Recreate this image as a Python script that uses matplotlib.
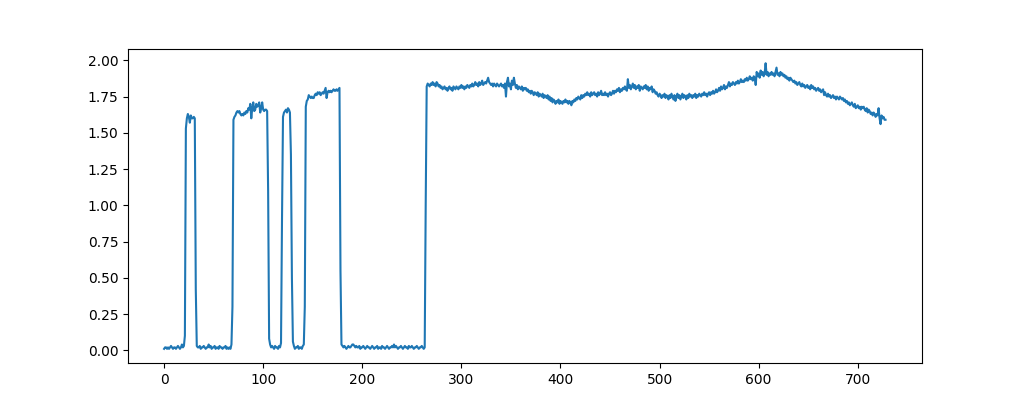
import matplotlib
matplotlib.use("Agg")
import matplotlib.pyplot as plt
import numpy as np

# signal, one value per sample index
low_1 = [0.01, 0.02, 0.02, 0.01, 0.02, 0.01, 0.02, 0.03, 0.02, 0.01,
         0.02, 0.02, 0.01, 0.02, 0.03, 0.02, 0.01, 0.02, 0.04, 0.02,
         0.03]
pulse_1 = [0.10, 1.53, 1.60, 1.63, 1.61, 1.57, 1.62, 1.60, 1.60, 1.61,
           1.60, 0.42]
low_2 = [0.03, 0.02, 0.02, 0.03, 0.01, 0.02, 0.02, 0.03, 0.02, 0.01,
         0.02, 0.02, 0.04, 0.02, 0.03, 0.01, 0.02, 0.02, 0.03, 0.01,
         0.02, 0.02, 0.01, 0.03, 0.02, 0.02, 0.01, 0.02, 0.02, 0.03,
         0.01, 0.02, 0.01, 0.02, 0.01, 0.04]
pulse_2 = [0.30, 1.59,
           1.61, 1.62, 1.64, 1.65, 1.64, 1.65, 1.63, 1.62, 1.63, 1.62,
           1.64, 1.63, 1.65, 1.64, 1.67, 1.66, 1.70, 1.60, 1.67, 1.71,
           1.65, 1.66, 1.70, 1.68, 1.69, 1.71, 1.64, 1.67, 1.71, 1.66,
           1.65, 1.66, 1.66, 1.65,
           1.10, 0.08]
low_3 = [0.04, 0.02, 0.03, 0.02, 0.01, 0.03, 0.02, 0.02, 0.01, 0.03,
         0.02, 0.05]
pulse_3 = [0.90, 1.61, 1.64, 1.65, 1.66, 1.64, 1.67, 1.66, 1.64,
           1.35, 0.50, 0.06]
low_4 = [0.03, 0.01, 0.02, 0.02, 0.03, 0.01, 0.02, 0.02, 0.01, 0.03,
         0.04]
pulse_4 = [0.30, 1.68,
           1.72, 1.73, 1.76, 1.75, 1.74, 1.75, 1.74, 1.74, 1.76, 1.77,
           1.76, 1.78, 1.77, 1.78, 1.76, 1.77, 1.78, 1.77, 1.79, 1.81,
           1.74, 1.78, 1.79, 1.78, 1.79, 1.78, 1.79, 1.80, 1.79, 1.79,
           1.80, 1.79, 1.80, 1.81,
           0.55]
low_5 = [0.04, 0.03, 0.02, 0.03, 0.02, 0.01, 0.02, 0.03, 0.02, 0.02,
         0.03, 0.04, 0.04, 0.03, 0.02, 0.03, 0.02, 0.02, 0.03, 0.01,
         0.02, 0.02, 0.03, 0.02, 0.01, 0.02, 0.03, 0.02, 0.02, 0.01,
         0.02, 0.03, 0.02, 0.01, 0.02, 0.02, 0.03, 0.01, 0.02, 0.02,
         0.01, 0.03, 0.02, 0.02, 0.01, 0.02, 0.03, 0.02, 0.01, 0.02,
         0.02, 0.03, 0.02, 0.04, 0.02, 0.03, 0.02, 0.01, 0.02, 0.02,
         0.03, 0.02, 0.01, 0.02, 0.03, 0.02, 0.02, 0.01, 0.03, 0.02,
         0.02, 0.03, 0.02, 0.01, 0.02, 0.02, 0.03, 0.02, 0.01, 0.02,
         0.02, 0.03, 0.02, 0.01, 0.02]
plateau_1 = [1.00,
             1.82, 1.84, 1.83, 1.82, 1.84, 1.83, 1.85, 1.83, 1.84, 1.82,
             1.85, 1.84, 1.82, 1.83, 1.81, 1.82, 1.80, 1.81, 1.82, 1.80,
             1.81, 1.79, 1.81, 1.82, 1.80, 1.81, 1.79, 1.82, 1.81, 1.80,
             1.82, 1.81, 1.80, 1.82, 1.81, 1.83, 1.81, 1.82, 1.80, 1.82,
             1.81, 1.83, 1.82, 1.81, 1.83, 1.82, 1.84, 1.82, 1.83, 1.85,
             1.83, 1.84, 1.82, 1.85, 1.83, 1.84, 1.86, 1.83, 1.84, 1.85,
             1.84, 1.86, 1.88, 1.85, 1.84, 1.83, 1.84, 1.82, 1.84, 1.83,
             1.82, 1.84, 1.83, 1.82, 1.83, 1.84, 1.82, 1.83, 1.81, 1.84,
             1.75, 1.85, 1.88, 1.82, 1.84, 1.80, 1.86, 1.83, 1.88, 1.84,
             1.81, 1.83, 1.80, 1.82, 1.81, 1.80, 1.82, 1.79, 1.81, 1.80,
             1.81, 1.79, 1.80, 1.78, 1.79, 1.77, 1.79, 1.78, 1.76, 1.78,
             1.77, 1.76, 1.78, 1.75, 1.77, 1.76, 1.75, 1.77, 1.74, 1.76,
             1.75, 1.74, 1.76, 1.73, 1.75, 1.72, 1.74, 1.71, 1.73, 1.72,
             1.70, 1.72, 1.71, 1.73, 1.70, 1.72, 1.71, 1.70, 1.72, 1.71,
             1.73, 1.71, 1.72, 1.70, 1.72, 1.71, 1.69, 1.72, 1.71, 1.73]
plateau_2 = [1.72, 1.74, 1.73, 1.75, 1.74, 1.73, 1.76, 1.74, 1.76, 1.75,
             1.77, 1.76, 1.78, 1.76, 1.77, 1.75, 1.78, 1.76, 1.77, 1.78,
             1.76, 1.77, 1.75, 1.78, 1.76, 1.77, 1.79, 1.76, 1.77, 1.76,
             1.78, 1.76, 1.77, 1.75, 1.77, 1.78, 1.76, 1.77, 1.79, 1.77,
             1.79, 1.78, 1.80, 1.79, 1.81, 1.78, 1.80, 1.79, 1.81, 1.80,
             1.82, 1.80, 1.79, 1.87, 1.81, 1.83, 1.80, 1.82, 1.84, 1.81,
             1.83, 1.80, 1.82, 1.81, 1.83, 1.79, 1.82, 1.81, 1.80, 1.82,
             1.81, 1.83, 1.80, 1.82, 1.79, 1.81, 1.80, 1.82, 1.78, 1.80,
             1.79, 1.77, 1.78, 1.76, 1.75, 1.77, 1.76, 1.74, 1.76, 1.75,
             1.77, 1.74, 1.76, 1.75, 1.73, 1.76, 1.74, 1.77, 1.75, 1.73,
             1.76, 1.72, 1.75, 1.77, 1.74, 1.76, 1.73, 1.75, 1.77, 1.74,
             1.76, 1.75, 1.73, 1.76, 1.74, 1.77, 1.75, 1.76, 1.74, 1.76,
             1.75, 1.77, 1.74, 1.76, 1.75, 1.77, 1.76, 1.75, 1.77, 1.76,
             1.78, 1.76, 1.77, 1.75, 1.77, 1.78, 1.76, 1.78, 1.77, 1.79,
             1.77, 1.78, 1.80, 1.78, 1.79, 1.81, 1.79, 1.82, 1.80, 1.81]
plateau_3 = [1.83, 1.80, 1.82, 1.81, 1.83, 1.85, 1.82, 1.84, 1.83, 1.85,
             1.84, 1.83, 1.85, 1.84, 1.86, 1.84, 1.85, 1.87, 1.85, 1.86,
             1.85, 1.87, 1.86, 1.88, 1.86, 1.87, 1.89, 1.87, 1.88, 1.86,
             1.89, 1.88, 1.83, 1.92, 1.89, 1.91, 1.88, 1.93, 1.90, 1.92,
             1.89, 1.91, 1.98, 1.90, 1.92, 1.89, 1.91, 1.90, 1.92, 1.90,
             1.91, 1.89, 1.92, 1.95, 1.90, 1.91, 1.89, 1.92, 1.90, 1.91,
             1.89, 1.90, 1.88, 1.89, 1.87, 1.88, 1.86, 1.88, 1.87, 1.86,
             1.85, 1.86, 1.84, 1.85, 1.83, 1.84, 1.85, 1.83, 1.82, 1.84,
             1.82, 1.83, 1.81, 1.82, 1.83, 1.81, 1.82, 1.80, 1.83, 1.81,
             1.82, 1.80, 1.81, 1.79, 1.80, 1.81, 1.79, 1.80, 1.78, 1.79,
             1.80, 1.76, 1.78, 1.76, 1.75, 1.77, 1.75, 1.76, 1.74, 1.75,
             1.76, 1.74, 1.75, 1.73, 1.75, 1.74, 1.73, 1.75, 1.74, 1.73,
             1.74, 1.72, 1.73, 1.71, 1.72, 1.70, 1.71, 1.69, 1.70, 1.71,
             1.69, 1.68, 1.70, 1.67, 1.68, 1.69, 1.67, 1.68, 1.66, 1.68,
             1.67, 1.68, 1.66, 1.65, 1.67, 1.64, 1.66, 1.65, 1.63, 1.64,
             1.62, 1.64, 1.63, 1.61, 1.63, 1.62, 1.67, 1.60, 1.56, 1.62,
             1.60, 1.61, 1.59, 1.59]

segments = [low_1, pulse_1, low_2, pulse_2, low_3, pulse_3, low_4,
            pulse_4, low_5, plateau_1, plateau_2, plateau_3]
y = np.concatenate([np.array(s) for s in segments])
x = np.arange(len(y))

fig, ax = plt.subplots(figsize=(10.24, 4.08), dpi=100)
ax.plot(x, y)
fig.savefig("out.png", dpi=100)
